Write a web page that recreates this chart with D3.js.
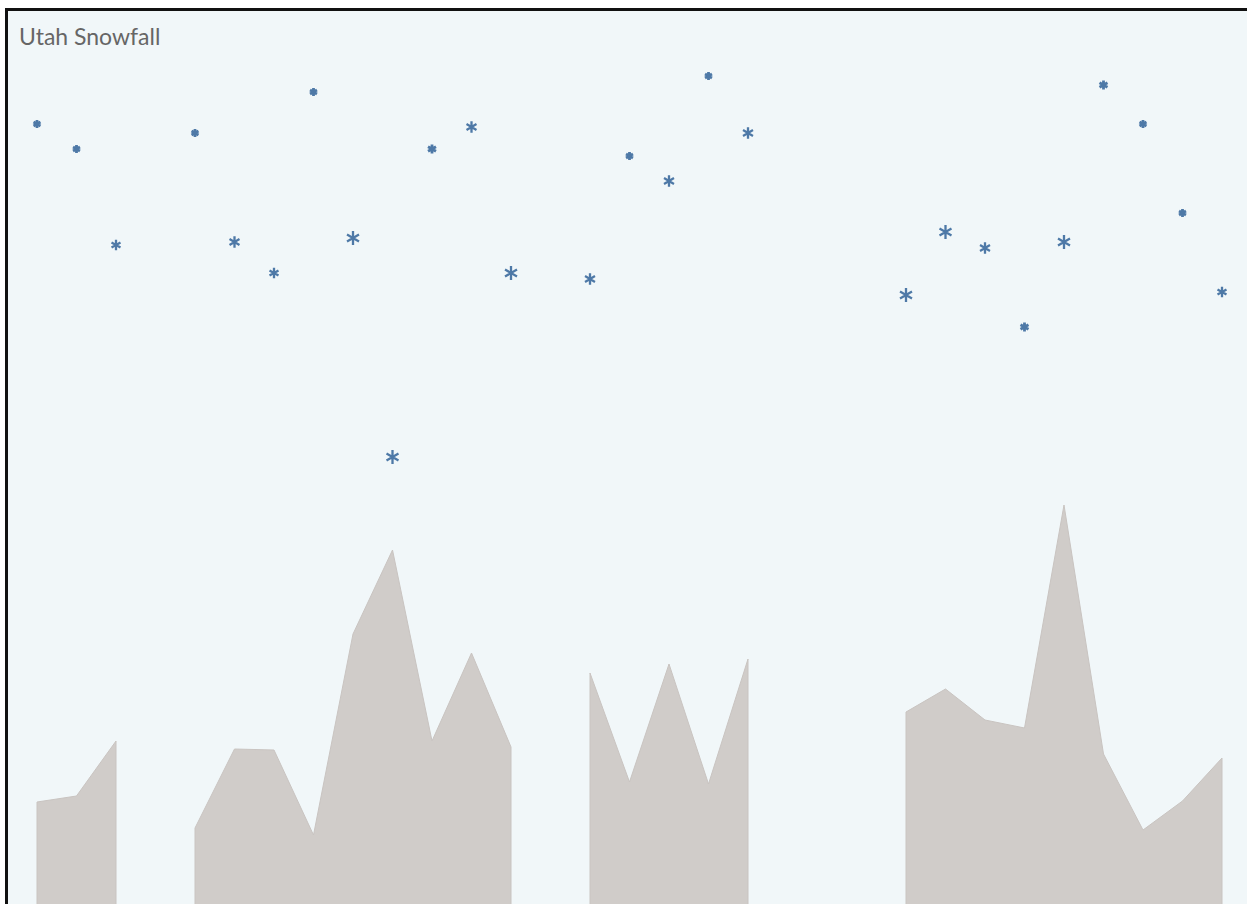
<!DOCTYPE html>
<html>
<head>
<meta charset="utf-8">
<script src="https://cdn.jsdelivr.net/npm/d3@7"></script>
<style>
  html, body { margin: 0; padding: 0; background: #ffffff; }
  svg { display: block; }
</style>
</head>
<body>
<svg id="chart" width="1247" height="904"></svg>
<script>
// ---- data ----
const categories = d3.range(1990, 2021).map(String); // 31 seasons
// seasonal snowfall (area), null = no data
const snowfall = [118, 124, 179, null, 92, 171, 170, 85, 286, 370, 179, 267, 173, null,
  247, 138, 256, 136, 261, null, null, null, 208, 231, 200, 192, 415, 166, 90, 119, 162];
// second measure (asterisk height)
const flakeValues = [346, 321, 225, null, 337, 228, 197, 378, 232, 13, 321, 343, 197, null,
  191, 314, 289, 394, 337, null, null, null, 175, 238, 222, 143, 228, 385, 346, 257, 178];
// asterisk size measure
const flakeSizes = [7, 7, 9, null, 7, 10, 9, 7, 12, 12, 8, 10, 12, null,
  10, 7, 10, 7, 10, null, null, null, 12, 12, 10, 8, 12, 8, 7, 7, 9];
const title = "Utah Snowfall";

const data = categories.map((c, i) => ({ cat: c, snow: snowfall[i], flake: flakeValues[i], size: flakeSizes[i] }));

const svg = d3.select("#chart");

// frame
svg.append("rect").attr("x", 6.5).attr("y", 9.5).attr("width", 1400).attr("height", 1000)
  .attr("fill", "#f1f7f9").attr("stroke", "#111").attr("stroke-width", 3);

const x = d3.scalePoint().domain(categories).range([37, 1222]);
const yArea = d3.scaleLinear().domain([0, 500]).range([920, 420]);
const yFlake = d3.scaleLinear().domain([0, 400]).range([470, 70]);
const rSize = d3.scaleLinear().domain([7, 12]).range([4.0, 6.9]);

const area = d3.area()
  .defined(d => d.snow != null)
  .x(d => x(d.cat))
  .y0(yArea(0))
  .y1(d => yArea(d.snow));

svg.append("path").datum(data)
  .attr("d", area)
  .attr("fill", "#d0ccc9")
  .attr("stroke", "#c9c4c1")
  .attr("stroke-width", 1);

// asterisks
svg.append("g").selectAll("path")
  .data(data.filter(d => d.flake != null))
  .join("path")
  .attr("transform", d => `translate(${x(d.cat)},${yFlake(d.flake)})`)
  .attr("d", d => {
    const r = rSize(d.size);
    const size = Math.pow(r / 0.59436, 2);
    return d3.symbol(d3.symbolAsterisk, size)();
  })
  .attr("fill", "none")
  .attr("stroke", "#4e79a7")
  .attr("stroke-width", d => d.size <= 8 ? 2.8 : 2.3)
  .attr("stroke-linecap", "butt");

svg.append("text").attr("x", 19).attr("y", 45)
  .attr("font-family", "Lato, 'Open Sans', sans-serif")
  .attr("font-size", 23)
  .attr("fill", "#666")
  .text(title);
</script>
</body>
</html>
